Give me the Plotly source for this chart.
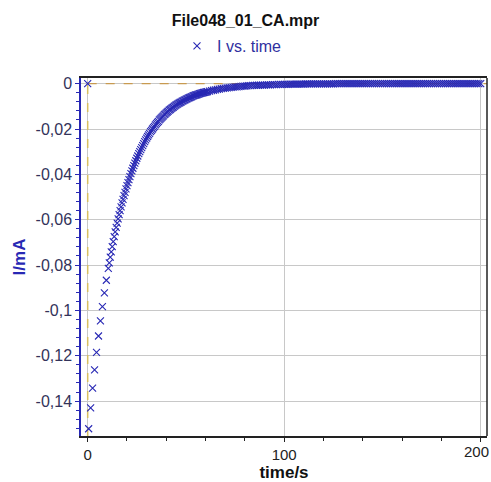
import plotly.graph_objects as go

# Data (time in s, current in mA)
time_s = [0.0,
    0.5, 1.5, 2.5, 3.5, 4.5, 5.5, 6.5, 7.5, 8.5, 9.5, 10.5,
    11.0, 11.5, 12.0, 12.5, 13.0, 13.5, 14.0, 14.5, 15.0, 15.5,
    16.0, 16.5, 17.0, 17.5, 18.0, 18.5, 19.0, 19.5, 20.0, 20.5,
    21.0, 21.5, 22.0, 22.5, 23.0, 23.5, 24.0, 24.5, 25.0, 25.5,
    26.0, 26.5, 27.0, 27.5, 28.0, 28.5, 29.0, 29.5, 30.0, 30.5,
    31.0, 31.5, 32.0, 32.5, 33.0, 33.5, 34.0, 34.5, 35.0, 35.5,
    36.0, 36.5, 37.0, 37.5, 38.0, 38.5, 39.0, 39.5, 40.0, 40.5,
    41.0, 41.5, 42.0, 42.5, 43.0, 43.5, 44.0, 44.5, 45.0, 45.5,
    46.0, 46.5, 47.0, 47.5, 48.0, 48.5, 49.0, 49.5, 50.0, 50.5,
    51.0, 51.5, 52.0, 52.5, 53.0, 53.5, 54.0, 54.5, 55.0, 55.5,
    56.0, 56.5, 57.0, 57.5, 58.0, 58.5, 59.0, 59.5, 60.0, 60.5,
    61, 62, 63, 64, 65, 66, 67, 68, 69, 70,
    71, 72, 73, 74, 75, 76, 77, 78, 79, 80,
    81, 82, 83, 84, 85, 86, 87, 88, 89, 90,
    91, 92, 93, 94, 95, 96, 97, 98, 99, 100,
    101, 102, 103, 104, 105, 106, 107, 108, 109, 110,
    111, 112, 113, 114, 115, 116, 117, 118, 119, 120,
    121, 122, 123, 124, 125, 126, 127, 128, 129, 130,
    131, 132, 133, 134, 135, 136, 137, 138, 139, 140,
    141, 142, 143, 144, 145, 146, 147, 148, 149, 150,
    151, 152, 153, 154, 155, 156, 157, 158, 159, 160,
    161, 162, 163, 164, 165, 166, 167, 168, 169, 170,
    171, 172, 173, 174, 175, 176, 177, 178, 179, 180,
    181, 182, 183, 184, 185, 186, 187, 188, 189, 190,
    191, 192, 193, 194, 195, 196, 197, 198, 199, 200]

current_mA = [0.0,
    -0.1522, -0.1430, -0.1343, -0.1262, -0.1185, -0.1113, -0.1046, -0.0983, -0.0923, -0.0867, -0.0815,
    -0.0790, -0.0765, -0.0742, -0.0719, -0.0697, -0.0675, -0.0654, -0.0634, -0.0615, -0.0596,
    -0.0578, -0.0560, -0.0543, -0.0526, -0.0510, -0.0494, -0.0479, -0.0464, -0.0450, -0.0436,
    -0.0423, -0.0410, -0.0397, -0.0385, -0.0373, -0.0361, -0.0350, -0.0340, -0.0329, -0.0319,
    -0.0309, -0.0300, -0.0291, -0.0282, -0.0273, -0.0264, -0.0256, -0.0248, -0.0240, -0.0233,
    -0.0226, -0.0219, -0.0212, -0.0206, -0.0200, -0.0194, -0.0188, -0.0182, -0.0176, -0.0171,
    -0.0166, -0.0160, -0.0155, -0.0151, -0.0146, -0.0142, -0.0137, -0.0133, -0.0129, -0.0125,
    -0.0121, -0.0117, -0.0114, -0.0110, -0.0107, -0.0104, -0.0100, -0.0097, -0.0094, -0.0091,
    -0.0088, -0.0086, -0.0083, -0.0081, -0.0078, -0.0076, -0.0074, -0.0071, -0.0069, -0.0067,
    -0.0065, -0.0063, -0.0061, -0.0059, -0.0057, -0.0055, -0.0053, -0.0052, -0.0050, -0.0049,
    -0.0047, -0.0046, -0.0044, -0.0043, -0.0042, -0.0041, -0.0039, -0.0038, -0.0037, -0.0036,
    -0.0035, -0.0033, -0.0031, -0.0029, -0.0027, -0.0025, -0.0024, -0.0022, -0.0021, -0.0020,
    -0.0019, -0.0017, -0.0016, -0.0015, -0.0014, -0.0014, -0.0013, -0.0012, -0.0011, -0.0011,
    -0.0010, -0.0009, -0.0009, -0.0008, -0.0008, -0.0007, -0.0007, -0.0006, -0.0006, -0.0006,
    -0.0005, -0.0005, -0.0005, -0.0004, -0.0004, -0.0004, -0.0003, -0.0003, -0.0003, -0.0003,
    -0.0003, -0.0003, -0.0002, -0.0002, -0.0002, -0.0002, -0.0002, -0.0002, -0.0002, -0.0002,
    -0.0001, -0.0001, -0.0001, -0.0001, -0.0001, -0.0001, -0.0001, -0.0001, -0.0001, -0.0001,
    -0.0001, -0.0001, -0.0001, -0.0001, -0.0001, 0.0, 0.0, 0.0, 0.0, 0.0,
    0.0, 0.0, 0.0, 0.0, 0.0, 0.0, 0.0, 0.0, 0.0, 0.0,
    0.0, 0.0, 0.0, 0.0, 0.0, 0.0, 0.0, 0.0, 0.0, 0.0,
    0.0, 0.0, 0.0, 0.0, 0.0, 0.0, 0.0, 0.0, 0.0, 0.0,
    0.0, 0.0, 0.0, 0.0, 0.0, 0.0, 0.0, 0.0, 0.0, 0.0,
    0.0, 0.0, 0.0, 0.0, 0.0, 0.0, 0.0, 0.0, 0.0, 0.0,
    0.0, 0.0, 0.0, 0.0, 0.0, 0.0, 0.0, 0.0, 0.0, 0.0,
    0.0, 0.0, 0.0, 0.0, 0.0, 0.0, 0.0, 0.0, 0.0, 0.0]

y_tickvals = [0, -0.02, -0.04, -0.06, -0.08, -0.1, -0.12, -0.14]
y_ticktext = ["0", "-0,02", "-0,04", "-0,06", "-0,08", "-0,1", "-0,12", "-0,14"]
x_tickvals = [0, 100, 200]
x_ticktext = ["0", "100", "200"]

FONT = "Liberation Sans, Arial, sans-serif"
BLUE = "#2828b4"
X_RANGE = [-3.4, 203.2]
Y_RANGE = [-0.1554, 0.0025]

fig = go.Figure()
fig.add_trace(go.Scatter(
    x=time_s, y=current_mA, mode="markers", name="I vs. time",
    marker=dict(symbol="x-thin", size=7, color=BLUE,
                line=dict(width=1.1, color=BLUE)),
))

fig.update_layout(
    width=491, height=482,
    margin=dict(l=81, r=4, t=78, b=44),
    paper_bgcolor="white", plot_bgcolor="white",
    separators=", ",
    font=dict(family=FONT, size=16, color="#222"),
    title=dict(text="<b>File048_01_CA.mpr</b>", x=0.5, xanchor="center",
               y=1 - 20 / 482, yanchor="middle",
               font=dict(family=FONT, size=16, color="#111")),
    showlegend=True,
    legend=dict(orientation="h", xref="container", yref="container",
                x=177 / 491, xanchor="left", y=1 - 46 / 482, yanchor="middle",
                font=dict(family=FONT, size=16, color="#3030a0"),
                bgcolor="rgba(0,0,0,0)", itemwidth=30),
    xaxis=dict(range=X_RANGE, tickmode="array", tickvals=x_tickvals,
               ticktext=["0", "100", ""], showgrid=True, gridcolor="#c8c8c8", gridwidth=1,
               zeroline=False, showline=True, linecolor="#222", linewidth=1.5,
               mirror=True, ticks="outside", ticklen=4, tickcolor="#222",
               minor=dict(tick0=0, dtick=20, ticks="outside", ticklen=3,
                          tickcolor="#222", showgrid=False),
               tickfont=dict(family=FONT, size=15, color="#222"),
               title=dict(text="<b>time/s</b>", standoff=3,
                          font=dict(family=FONT, size=17, color="#111"))),
    yaxis=dict(range=Y_RANGE, tickmode="array", tickvals=y_tickvals,
               ticktext=y_ticktext, showgrid=True, gridcolor="#c8c8c8", gridwidth=1,
               zeroline=False, showline=True, linecolor=BLUE, linewidth=1.5,
               mirror=False, ticks="outside", ticklen=4, tickcolor=BLUE,
               minor=dict(tick0=0, dtick=0.004, ticks="outside", ticklen=3,
                          tickcolor=BLUE, showgrid=False),
               tickfont=dict(family=FONT, size=16, color="#33335a"),
               title=dict(text="<b>I/mA</b>", standoff=6,
                          font=dict(family=FONT, size=17, color=BLUE))),
)

# the last x tick label, kept just inside the figure edge
fig.add_annotation(x=x_tickvals[-1], y=0, xref="x", yref="paper", yanchor="top",
                   yshift=-5, xshift=-4, text=x_ticktext[-1], showarrow=False,
                   font=dict(family=FONT, size=15, color="#222"))

# dashed cursor lines along x=0 and y=0
fig.add_shape(type="line", xref="x", yref="y", x0=0, x1=0, y0=Y_RANGE[0], y1=0,
              line=dict(color="#d8c060", width=1.5, dash="dash"), layer="between")
fig.add_shape(type="line", xref="x", yref="y", x0=0, x1=X_RANGE[1], y0=0, y1=0,
              line=dict(color="#c89a50", width=1.2, dash="dash"), layer="between")
# right frame edge
fig.add_shape(type="line", xref="paper", yref="paper", x0=1, x1=1, y0=0, y1=1,
              line=dict(color="#222", width=1.5))

fig.write_html("out.html")
